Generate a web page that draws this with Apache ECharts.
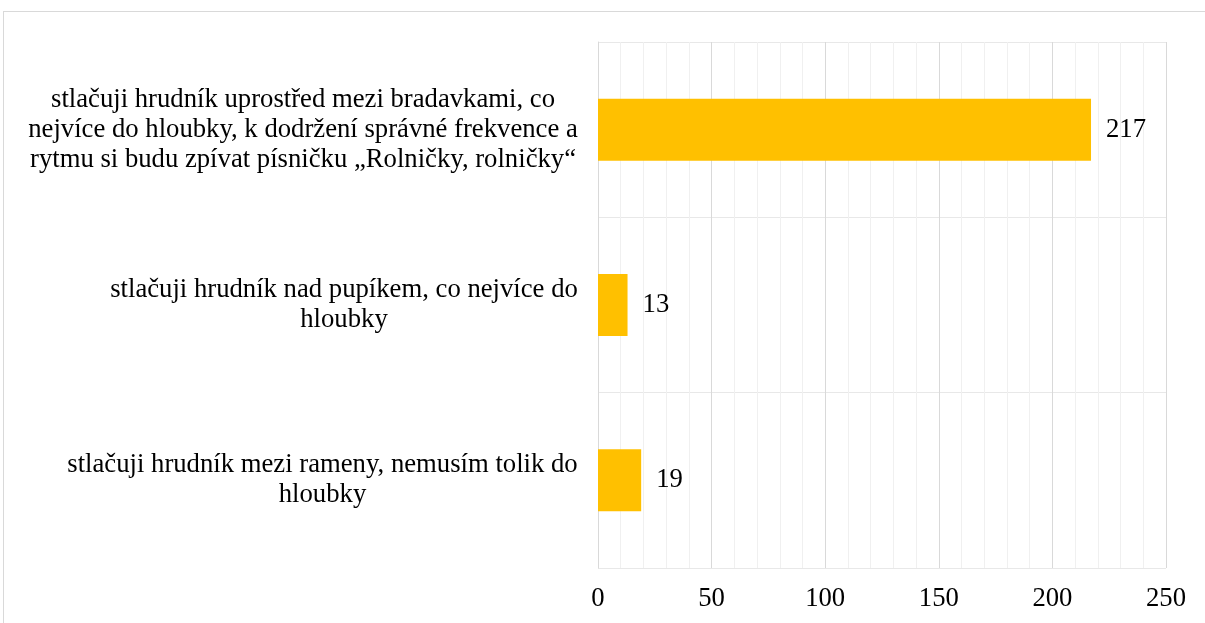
<!DOCTYPE html>
<html>
<head>
<meta charset="utf-8">
<script src="https://cdn.jsdelivr.net/npm/echarts@6/dist/echarts.min.js"></script>
<style>
html,body{margin:0;padding:0;background:#fff;overflow:hidden;}
#frame{position:absolute;left:3px;top:11px;width:1220px;height:640px;border:1px solid #d9d9d9;box-sizing:border-box;}
#chart{position:absolute;left:0;top:0;width:1205px;height:623px;}
</style>
</head>
<body>
<div id="frame"></div>
<div id="chart"></div>
<script>
const categories = [
  'stlačuji hrudník uprostřed mezi bradavkami, co\nnejvíce do hloubky, k dodržení správné frekvence a\nrytmu si budu zpívat písničku „Rolničky, rolničky“',
  'stlačuji hrudník nad pupíkem, co nejvíce do\nhloubky',
  'stlačuji hrudník mezi rameny, nemusím tolik do\nhloubky'
];
const values = [217, 13, 19];
const xTicks = [0, 50, 100, 150, 200, 250];

const FONT = '"Liberation Serif", "Times New Roman", serif';
const FS = 26.7;
const LH = 30;
const ctx = document.createElement('canvas').getContext('2d');
ctx.font = FS + 'px ' + FONT;
const rich = {};
categories.forEach((c, i) => {
  const w = Math.ceil(Math.max(...c.split('\n').map(l => ctx.measureText(l).width)));
  rich['r' + i] = { width: w, align: 'center', fontFamily: FONT, fontSize: FS, lineHeight: LH, color: '#000' };
});

const chart = echarts.init(document.getElementById('chart'), null, { renderer: 'canvas' });
chart.setOption({
  animation: false,
  grid: { left: 598, right: 39, top: 42, bottom: 55, containLabel: false, outerBoundsMode: 'none' },
  xAxis: {
    type: 'value',
    min: xTicks[0], max: xTicks[xTicks.length - 1], interval: 50,
    axisLine: { show: false },
    axisTick: { show: false },
    axisLabel: { color: '#000', fontFamily: FONT, fontSize: FS, margin: 17 },
    splitLine: { show: true, lineStyle: { color: '#d9d9d9', width: 1 } },
    minorTick: { show: false, splitNumber: 5 },
    minorSplitLine: { show: true, lineStyle: { color: '#f0f0f0', width: 1 } }
  },
  yAxis: {
    type: 'category',
    inverse: true,
    data: categories,
    axisLine: { show: true, lineStyle: { color: '#d9d9d9' } },
    axisTick: { show: false },
    axisLabel: {
      color: '#000', fontFamily: FONT, fontSize: FS, lineHeight: LH, align: 'right', margin: 20,
      formatter: (val, idx) => {
        const i = categories.indexOf(val);
        return val.split('\n').map(l => '{r' + i + '|' + l + '}').join('\n');
      },
      rich: rich
    },
    splitLine: { show: true, lineStyle: { color: '#e8e8e8', width: 1 } }
  },
  series: [{
    type: 'bar',
    data: values,
    barWidth: '35.4%',
    itemStyle: { color: '#ffc000' },
    label: { show: true, position: 'right', distance: 15, color: '#000', fontFamily: FONT, fontSize: FS }
  }]
});
</script>
</body>
</html>
